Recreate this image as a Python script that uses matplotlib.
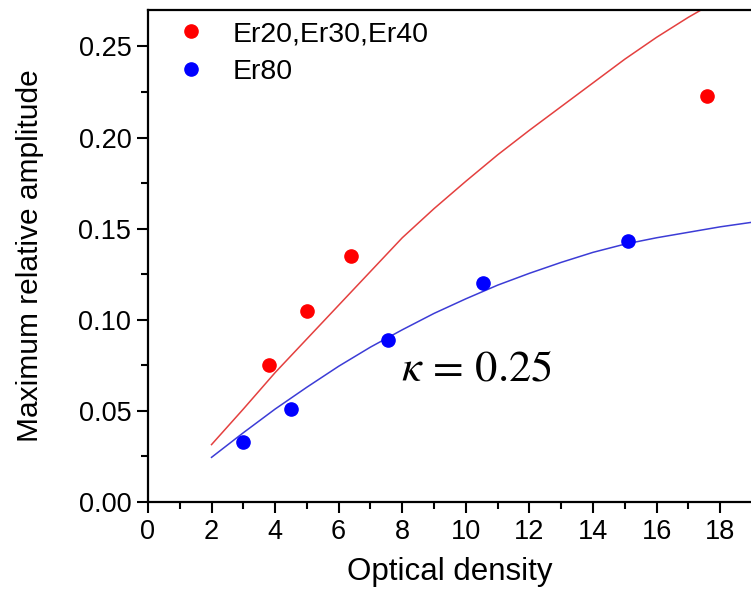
import numpy as np
import matplotlib
matplotlib.use('Agg')
import matplotlib.pyplot as plt
from matplotlib.ticker import MultipleLocator

# measured amplitudes
red_x = [3.8, 5.0, 6.4, 17.6]
red_y = [0.075, 0.105, 0.135, 0.223]
blue_x = [3.0, 4.5, 7.55, 10.55, 15.1]
blue_y = [0.033, 0.051, 0.089, 0.120, 0.143]

# model curves (kappa = 0.25)
fit_red_x = [2, 3, 4, 5, 6, 7, 8, 9, 10, 11, 12, 13, 14, 15, 16, 17, 17.4]
fit_red_y = [0.0315, 0.051, 0.071, 0.0895, 0.108, 0.1265, 0.145, 0.161, 0.176,
             0.1905, 0.204, 0.217, 0.230, 0.243, 0.255, 0.266, 0.270]
fit_blue_x = [2, 3, 4, 5, 6, 7, 8, 9, 10, 11, 12, 13, 14, 15, 16, 17, 18, 19]
fit_blue_y = [0.0245, 0.038, 0.051, 0.063, 0.0745, 0.085, 0.0945, 0.1035, 0.1115,
              0.119, 0.1255, 0.1315, 0.137, 0.1415, 0.145, 0.148, 0.151, 0.1535]

plt.rcParams['font.family'] = ['Liberation Sans', 'DejaVu Sans']

fig = plt.figure(figsize=(7.51, 5.91), dpi=100)
ax = fig.add_axes([0.197, 0.1506, 0.803, 0.8325])

ax.plot(fit_red_x, fit_red_y, '-', color='#e4403f', lw=1.1)
ax.plot(fit_blue_x, fit_blue_y, '-', color='#3c3cd6', lw=1.1)
ax.plot(red_x, red_y, 'o', color='#ff0000', ms=9.5, ls='none', label='Er20,Er30,Er40')
ax.plot(blue_x, blue_y, 'o', color='#0000ff', ms=9.5, ls='none', label='Er80')

ax.text(7.95, 0.0669, r'$\kappa\,=\,0.25$', fontsize=32, math_fontfamily='stix')

ax.set_xlim(0, 18.97)
ax.set_ylim(0, 0.27)
ax.xaxis.set_major_locator(MultipleLocator(2))
ax.xaxis.set_minor_locator(MultipleLocator(1))
ax.yaxis.set_major_locator(MultipleLocator(0.05))
ax.yaxis.set_minor_locator(MultipleLocator(0.025))
ax.yaxis.set_major_formatter(plt.FormatStrFormatter('%.2f'))
ax.tick_params(which='major', direction='out', length=8, width=1.5, labelsize=19.5, pad=4)
ax.tick_params(which='minor', direction='out', length=5, width=1.5)
for s in ['left', 'bottom', 'top']:
    ax.spines[s].set_linewidth(1.6)
ax.spines['right'].set_visible(False)

ax.set_xlabel('Optical density', fontsize=22.5, labelpad=9)
ax.set_ylabel('Maximum relative amplitude', fontsize=21.5, labelpad=25)

ax.legend(loc='upper left', frameon=False, fontsize=20.5, handletextpad=0.45,
          borderaxespad=0.0, labelspacing=0.42, bbox_to_anchor=(0.006, 1.0))

fig.savefig('out.png', dpi=100)
